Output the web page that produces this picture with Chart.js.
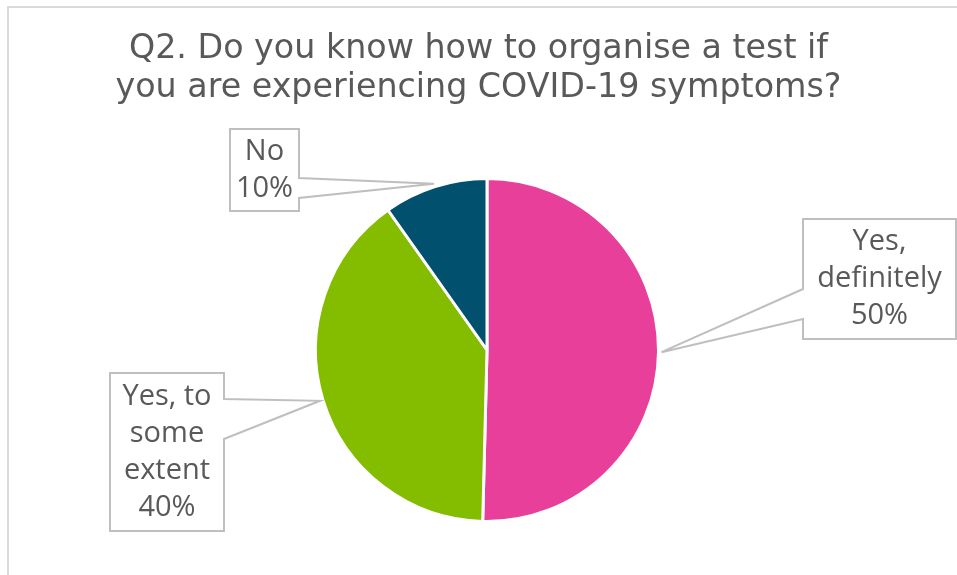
<!DOCTYPE html>
<html>
<head>
<meta charset="utf-8">
<title>Q2 test pie</title>
<script src="https://cdn.jsdelivr.net/npm/chart.js@4.4.1/dist/chart.umd.min.js"></script>
<style>
  body { margin: 0; background: #fff; }
</style>
</head>
<body>
<canvas id="myChart" width="957" height="575"></canvas>
<script>
// data
const categories = ['Yes, definitely', 'Yes, to some extent', 'No'];
const shares = [50.4, 39.8, 9.8];
const labelLines = [['Yes,', 'definitely'], ['Yes, to', 'some', 'extent'], ['No']];
const titleLines = ['Q2. Do you know how to organise a test if', 'you are experiencing COVID-19 symptoms?'];
const sliceColors = ['#E8409A', '#84BD00', '#00506E'];

// where the callout boxes sit (layout only)
const calloutBoxes = [
  { x: 803, y: 219, w: 153, h: 120, side: 'left',  wedge: [289, 319] },
  { x: 110, y: 373, w: 114, h: 158, side: 'right', wedge: [399, 439] },
  { x: 230, y: 129, w: 69,  h: 82,  side: 'right', wedge: [178, 198] }
];

const frame = {
  id: 'frame',
  beforeDraw(chart) {
    const c = chart.ctx;
    c.save();
    c.fillStyle = '#fff';
    c.fillRect(0, 0, chart.width, chart.height);
    c.strokeStyle = '#D9D9D9';
    c.lineWidth = 2;
    c.strokeRect(8, 7, chart.width + 20, chart.height + 20);
    // title, centred on the whole canvas
    c.fillStyle = '#595959';
    c.font = '33.3px "DejaVu Sans"';
    c.textAlign = 'center';
    c.textBaseline = 'alphabetic';
    titleLines.forEach((t, k) => c.fillText(t, chart.width / 2, 58 + k * 39));
    c.restore();
  }
};

const callouts = {
  id: 'callouts',
  afterDatasetsDraw(chart) {
    const c = chart.ctx;
    const arcs = chart.getDatasetMeta(0).data;
    arcs.forEach((arc, i) => {
      const p = arc.getProps(['x', 'y', 'startAngle', 'endAngle', 'outerRadius'], true);
      const mid = (p.startAngle + p.endAngle) / 2;
      const r = p.outerRadius + 3;
      const ax = p.x + Math.cos(mid) * r;
      const ay = p.y + Math.sin(mid) * r;
      const b = calloutBoxes[i];
      c.save();
      c.beginPath();
      if (b.side === 'right') {
        c.moveTo(b.x, b.y);
        c.lineTo(b.x + b.w, b.y);
        c.lineTo(b.x + b.w, b.wedge[0]);
        c.lineTo(ax, ay);
        c.lineTo(b.x + b.w, b.wedge[1]);
        c.lineTo(b.x + b.w, b.y + b.h);
        c.lineTo(b.x, b.y + b.h);
      } else {
        c.moveTo(b.x + b.w, b.y);
        c.lineTo(b.x, b.y);
        c.lineTo(b.x, b.wedge[0]);
        c.lineTo(ax, ay);
        c.lineTo(b.x, b.wedge[1]);
        c.lineTo(b.x, b.y + b.h);
        c.lineTo(b.x + b.w, b.y + b.h);
      }
      c.closePath();
      c.fillStyle = '#fff';
      c.fill();
      c.strokeStyle = '#BFBFBF';
      c.lineWidth = 2;
      c.stroke();

      const lines = labelLines[i].concat([Math.round(shares[i]) + '%']);
      const lh = 37;
      const cx = b.x + b.w / 2;
      const top = b.y + b.h / 2 - (lines.length * lh) / 2 + lh / 2;
      c.fillStyle = '#595959';
      c.font = '29px "Open Sans"';
      c.textAlign = 'center';
      c.textBaseline = 'middle';
      lines.forEach((t, k) => c.fillText(t, cx, top + k * lh));
      c.restore();
    });
  }
};

new Chart(document.getElementById('myChart'), {
  type: 'pie',
  data: {
    labels: categories,
    datasets: [{
      data: shares,
      backgroundColor: sliceColors,
      borderColor: '#fff',
      borderWidth: 3
    }]
  },
  options: {
    responsive: false,
    animation: false,
    devicePixelRatio: 1,
    events: [],
    layout: { padding: { left: 17, right: 0, top: 177, bottom: 52 } },
    plugins: {
      legend: { display: false },
      tooltip: { enabled: false },
      title: { display: false }
    }
  },
  plugins: [frame, callouts]
});
</script>
</body>
</html>
